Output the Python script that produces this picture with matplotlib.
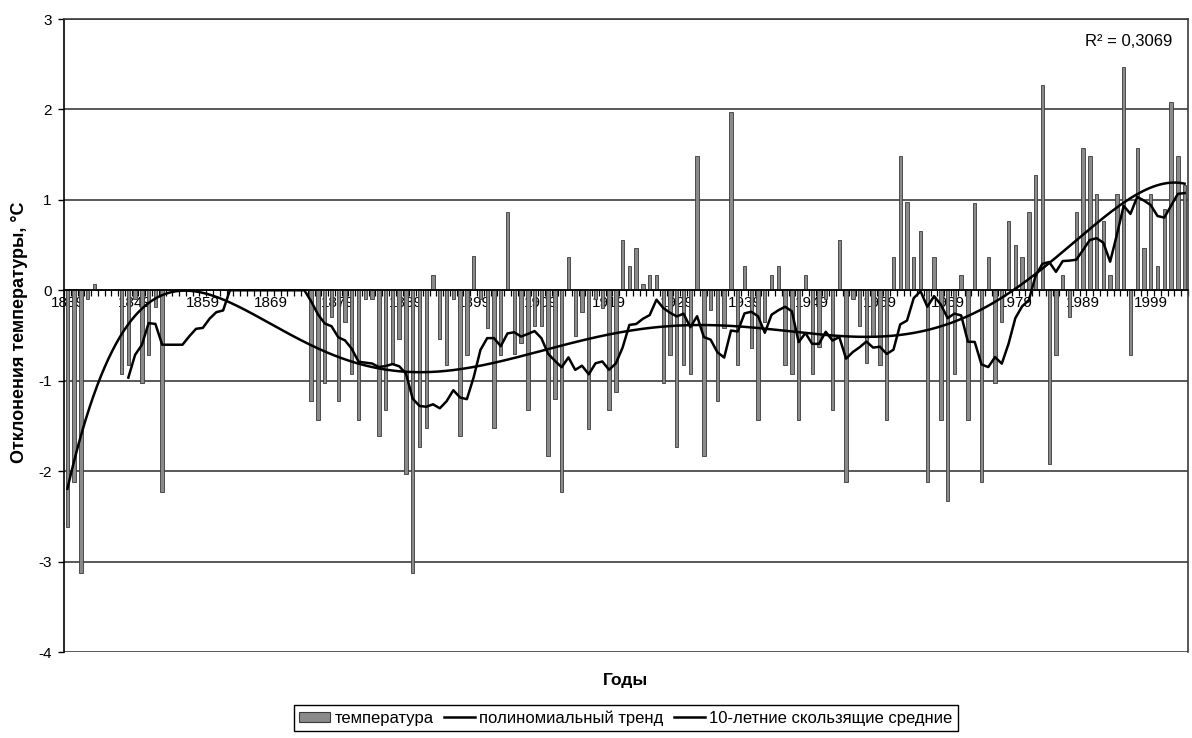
import numpy as np
import pandas as pd
import matplotlib
matplotlib.use("Agg")
import matplotlib.pyplot as plt
from matplotlib.patches import Patch
from matplotlib.lines import Line2D

plt.rcParams['axes.unicode_minus'] = False
plt.rcParams['font.family'] = ['Liberation Sans', 'DejaVu Sans']

# ---------------- data ----------------
first_year = 1839
temps = [
    -2.62, -2.12, -3.13, -0.10, 0.07, 0.0, 0.0, 0.0, -0.93, -0.83,      # 1839-1848
    -0.10, -1.02, -0.72, -0.19, -2.23, 0.0, 0.0, 0.0, 0.0, 0.0,         # 1849-1858
    0.0, 0.0, 0.0, 0.0, 0.0, 0.0, 0.0, 0.0, 0.0, 0.0,                   # 1859-1868
    0.0, 0.0, 0.0, 0.0, 0.0, 0.0, -1.22, -1.43, -1.02, -0.30,           # 1869-1878
    -1.22, -0.35, -0.93, -1.43, -0.10, -0.10, -1.61, -1.32, -0.80, -0.54,  # 1879-1888
    -2.03, -3.13, -1.73, -1.52, 0.17, -0.54, -0.83, -0.10, -1.61, -0.72,   # 1889-1898
    0.38, -0.10, -0.42, -1.52, -0.72, 0.87, -0.70, -0.58, -1.32, -0.40,    # 1899-1908
    -0.40, -1.83, -1.20, -2.23, 0.37, -0.51, -0.24, -1.53, -0.10, -0.20,   # 1909-1918
    -1.32, -1.13, 0.56, 0.27, 0.47, 0.07, 0.17, 0.17, -1.02, -0.72,        # 1919-1928
    -1.73, -0.83, -0.93, 1.48, -1.83, -0.22, -1.22, -0.42, 1.97, -0.83,    # 1929-1938
    0.27, -0.64, -1.43, -0.35, 0.17, 0.27, -0.83, -0.93, -1.43, 0.17,      # 1939-1948
    -0.93, -0.63, -0.10, -1.32, 0.56, -2.12, -0.10, -0.40, -0.80, -0.50,   # 1949-1958
    -0.83, -1.43, 0.37, 1.48, 0.98, 0.37, 0.66, -2.12, 0.37, -1.43,        # 1959-1968
    -2.33, -0.93, 0.17, -1.43, 0.96, -2.12, 0.37, -1.02, -0.35, 0.77,      # 1969-1978
    0.50, 0.37, 0.87, 1.27, 2.27, -1.92, -0.72, 0.17, -0.30, 0.87,         # 1979-1988
    1.57, 1.48, 1.07, 0.77, 0.17, 1.07, 2.47, -0.72, 1.57, 0.47,           # 1989-1998
    1.07, 0.27, 0.90, 2.08, 1.48, 1.16,                                    # 1999-2004
]
years = list(range(first_year, first_year + len(temps)))
tick_years = list(range(1839, 2000, 10))
y_ticks = [-4, -3, -2, -1, 0, 1, 2, 3]
r2_text = "R² = 0,3069"
ma_window = 10
poly_degree = 6

series_labels = ["температура", "полиномиальный тренд", "10-летние скользящие средние"]
y_title = "Отклонения температуры, °C"
x_title = "Годы"

# ---------------- derived series ----------------
yrs = np.array(years, dtype=float)
vals = np.array(temps, dtype=float)
ma = pd.Series(vals).rolling(ma_window).mean().to_numpy()
idx = np.arange(1, len(vals) + 1, dtype=float)
poly = np.polynomial.Polynomial.fit(idx, vals, poly_degree)
fine_idx = np.linspace(1, len(vals), 600)
fine_years = fine_idx - 1 + first_year

# ---------------- figure ----------------
W, H = 1192, 738
fig = plt.figure(figsize=(W / 100, H / 100), dpi=100)
L, R, T, B = 64, 1188, 19, 652
ax = fig.add_axes([L / W, 1 - B / H, (R - L) / W, (B - T) / H])

ax.set_axisbelow(True)
ax.bar(yrs, vals, width=0.5, color='#8a8a8a', edgecolor='#3a3a3a',
       linewidth=0.6, zorder=2)
ax.plot(fine_years, poly(fine_idx), color='black', lw=1.8, zorder=4)
ax.plot(yrs, ma, color='black', lw=1.8, zorder=3)

ax.set_xlim(first_year - 0.5, years[-1] + 0.5)
ax.set_ylim(-4, 3)
ax.set_yticks(y_ticks)
ax.set_yticklabels([str(v) for v in y_ticks], fontsize=11)
ax.yaxis.grid(True, color='#3c3c3c', linewidth=1.2)
ax.tick_params(axis='y', direction='out', length=4, width=1, color='black', pad=5)

ax.spines['bottom'].set_position(('data', 0))
ax.spines['bottom'].set_color('black')
ax.spines['bottom'].set_linewidth(1.2)
ax.spines['bottom'].set_zorder(5)
ax.spines['left'].set_color('black')
ax.spines['left'].set_linewidth(1.2)
for s in ('top', 'right'):
    ax.spines[s].set_color('#3c3c3c')
    ax.spines[s].set_linewidth(1.2)

ax.set_xticks(tick_years)
ax.set_xticklabels([str(y) for y in tick_years], fontsize=11)
ax.set_xticks(np.arange(first_year - 0.5, years[-1] + 1, 1), minor=True)
ax.tick_params(axis='x', which='major', length=0, pad=4)
ax.tick_params(axis='x', which='minor', length=4, width=0.9, color='black', direction='out')
for lbl in ax.get_xticklabels():
    lbl.set_zorder(6)

fig.text(20 / W, 1 - 332 / H, y_title, rotation=90, ha='center', va='center',
         fontsize=13, fontweight='bold')
fig.text((L + R) / 2 / W, 1 - 680 / H, x_title, ha='center', va='center',
         fontsize=12.5, fontweight='bold')
fig.text(1129 / W, 1 - 42 / H, r2_text, ha='center', va='center', fontsize=12)

handles = [Patch(facecolor='#8a8a8a', edgecolor='#3a3a3a', linewidth=0.8),
           Line2D([], [], color='black', lw=1.8),
           Line2D([], [], color='black', lw=1.8)]
leg = fig.legend(handles, series_labels, loc='center',
                 bbox_to_anchor=((L + R) / 2 / W, 1 - 718 / H), ncol=3,
                 frameon=True, fancybox=False, edgecolor='black', framealpha=1,
                 handlelength=1.85, handleheight=0.55, handletextpad=0.25,
                 columnspacing=0.65, borderpad=0.3, fontsize=12)
leg.get_frame().set_linewidth(1.0)

fig.savefig("out.png", dpi=100)
